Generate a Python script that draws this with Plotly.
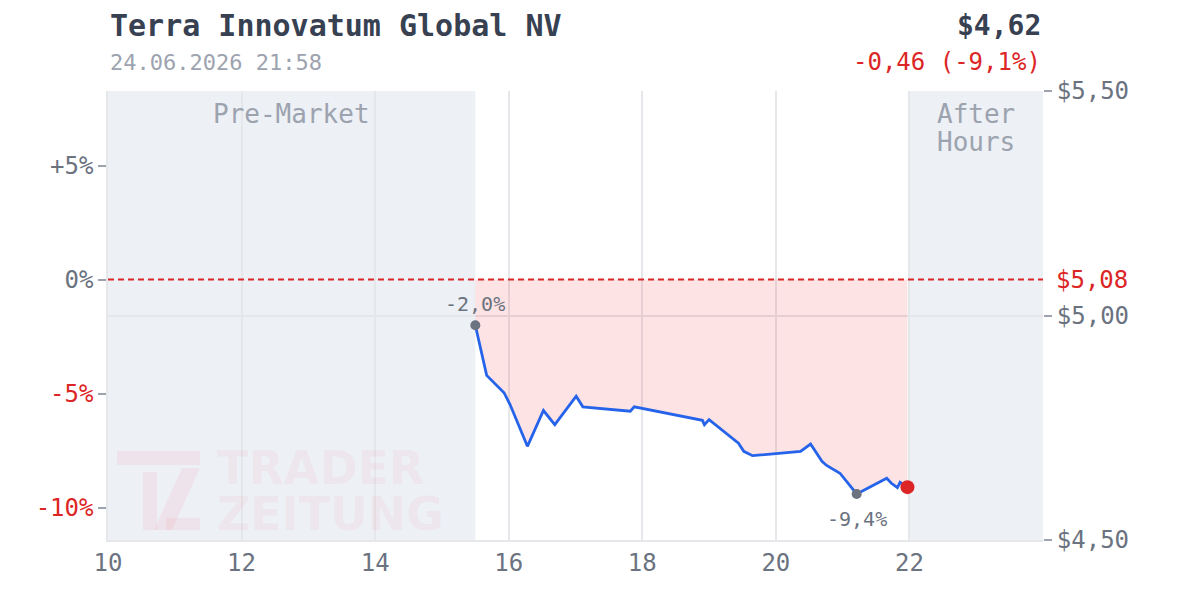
import plotly.graph_objects as go

# ---- data ----
hours = [15.50, 15.67, 15.93, 16.02, 16.28, 16.52, 16.69, 17.01, 17.11, 17.82, 17.88,
         18.90, 18.93, 19.00, 19.44, 19.52, 19.65, 20.37, 20.52, 20.69, 20.76, 20.96,
         21.21, 21.66, 21.73, 21.82, 21.86, 21.97]
pct = [-2.0, -4.20, -4.96, -5.48, -7.31, -5.74, -6.36, -5.11, -5.58, -5.77, -5.58,
       -6.17, -6.36, -6.14, -7.17, -7.53, -7.72, -7.53, -7.21, -7.97, -8.15, -8.49,
       -9.4, -8.71, -8.93, -9.12, -8.89, -9.1]
ref_price = 5.08
price_min, price_max = 4.50, 5.50
x_ticks = [10, 12, 14, 16, 18, 20, 22]
pct_ticks = [5, 0, -5, -10]
pct_labels = ["+5%", "0%", "-5%", "-10%"]
price_ticks = [4.50, 5.00, 5.50]
price_labels = ["$4,50", "$5,00", "$5,50"]
title = "Terra Innovatum Global NV"
subtitle = "24.06.2026 21:58"
last_price = "$4,62"
change_text = "-0,46 (-9,1%)"
pre_start, pre_end = 10, 15.5
ah_start, ah_end = 22, 24

FONT = "DejaVu Sans Mono"
RED = "#dc2626"
GRAY = "#6b7280"
LIGHT = "#9ca3af"
DARK = "#374151"
BLUE = "#2563eb"
SHADE = "#edf0f5"
WM = "rgba(255,80,120,0.08)"

ymin = (price_min / ref_price - 1) * 100
ymax = (price_max / ref_price - 1) * 100

# plot area in pixels
L, R, T, B = 108, 1043, 91, 540
W, H = R - L, B - T
def px(xp):
    return (xp - L) / W
def py(yp):
    return (B - yp) / H

fig = go.Figure()

# baseline for fill
fig.add_trace(go.Scatter(x=[hours[0], hours[-1]], y=[0, 0], mode="lines",
                         line=dict(width=0, color="rgba(0,0,0,0)"), hoverinfo="skip",
                         showlegend=False))
fig.add_trace(go.Scatter(x=hours, y=pct, mode="lines", fill="tonexty",
                         fillcolor="rgba(239,68,68,0.15)",
                         line=dict(color=BLUE, width=2.8), showlegend=False))
# start / min / end markers
imin = pct.index(min(pct))
fig.add_trace(go.Scatter(x=[hours[0], hours[imin]], y=[pct[0], pct[imin]], mode="markers",
                         marker=dict(color=GRAY, size=10), showlegend=False))
fig.add_trace(go.Scatter(x=[hours[-1]], y=[pct[-1]], mode="markers",
                         marker=dict(color=RED, size=14), showlegend=False))
# invisible trace on price axis
fig.add_trace(go.Scatter(x=[hours[0], hours[-1]], y=[ref_price, ref_price], yaxis="y2",
                         mode="lines", line=dict(width=0, color="rgba(0,0,0,0)"),
                         hoverinfo="skip", showlegend=False))

def fmt_pct(v):
    return f"{v:.1f}%".replace(".", ",")

annotations = [
    dict(x=hours[0], y=pct[0], text=fmt_pct(pct[0]), showarrow=False, yshift=21,
         font=dict(family=FONT, size=20, color=GRAY)),
    dict(x=hours[imin], y=pct[imin], text=fmt_pct(pct[imin]), showarrow=False, yshift=-25,
         font=dict(family=FONT, size=20, color=GRAY)),
    dict(x=(pre_start + pre_end) / 2, y=py(114), yref="paper", yanchor="middle",
         text="Pre-Market", showarrow=False, font=dict(family=FONT, size=26, color=LIGHT)),
    dict(x=(ah_start + ah_end) / 2, y=py(114), yref="paper", yanchor="middle",
         text="After", showarrow=False, font=dict(family=FONT, size=26, color=LIGHT)),
    dict(x=(ah_start + ah_end) / 2, y=py(142), yref="paper", yanchor="middle",
         text="Hours", showarrow=False, font=dict(family=FONT, size=26, color=LIGHT)),
    dict(x=0, xref="paper", y=py(26), yref="paper", xanchor="left", yanchor="middle",
         text=f"<b>{title}</b>", showarrow=False, font=dict(family=FONT, size=30, color=DARK)),
    dict(x=0, xref="paper", y=py(62), yref="paper", xanchor="left", yanchor="middle",
         text=subtitle, showarrow=False, font=dict(family=FONT, size=22, color=LIGHT)),
    dict(x=1, xref="paper", y=py(26), yref="paper", xanchor="right", yanchor="middle",
         text=f"<b>{last_price}</b>", showarrow=False, font=dict(family=FONT, size=28, color=DARK)),
    dict(x=1, xref="paper", y=py(62), yref="paper", xanchor="right", yanchor="middle",
         text=change_text, showarrow=False, font=dict(family=FONT, size=24, color=RED)),
    dict(x=1, xref="paper", y=ref_price, yref="y2", xanchor="left", yanchor="middle",
         xshift=11, text=f"${ref_price:.2f}".replace(".", ","), showarrow=False,
         font=dict(family=FONT, size=24, color=RED)),
    # watermark text
    dict(x=px(215), xref="paper", y=py(468), yref="paper", xanchor="left", yanchor="middle",
         text="<b>TRADER</b>", showarrow=False, height=42,
         font=dict(family="DejaVu Sans", size=46, color=WM)),
    dict(x=px(215), xref="paper", y=py(514), yref="paper", xanchor="left", yanchor="middle",
         text="<b>ZEITUNG</b>", showarrow=False, height=42,
         font=dict(family="DejaVu Sans", size=46, color=WM)),
]

shapes = [
    dict(type="rect", xref="x", yref="paper", x0=pre_start, x1=pre_end, y0=0, y1=1,
         fillcolor=SHADE, line=dict(width=0), layer="below"),
    dict(type="rect", xref="x", yref="paper", x0=ah_start, x1=ah_end, y0=0, y1=1,
         fillcolor=SHADE, line=dict(width=0), layer="below"),
    dict(type="line", xref="paper", yref="y", x0=0, x1=1, y0=0, y1=0,
         line=dict(color=RED, width=2, dash="6px,4px"), layer="above"),
]
def poly(pts):
    return "M " + " L ".join(f"{px(a)},{py(b)}" for a, b in pts) + " Z"
for pts in [
    [(117, 451), (200, 451), (200, 465), (117, 465)],
    [(143, 472), (157, 472), (157, 530), (143, 530)],
    [(182, 468), (200, 468), (172, 530), (154, 530)],
    [(166, 518), (200, 518), (200, 530), (166, 530)],
]:
    shapes.append(dict(type="path", xref="paper", yref="paper", path=poly(pts),
                       fillcolor=WM, line=dict(width=0), layer="below"))

tick_font = dict(family=FONT, size=24, color=GRAY)
fig.update_layout(
    width=1200, height=600,
    margin=dict(l=L, r=1200 - R, t=T, b=600 - B),
    paper_bgcolor="white", plot_bgcolor="white",
    showlegend=False,
    xaxis=dict(range=[10, 24], tickvals=x_ticks, ticktext=[str(v) for v in x_ticks],
               showgrid=True, gridcolor="#e5e7eb", gridwidth=1.5, zeroline=False,
               showline=True, linecolor="#e5e7eb", linewidth=1.5, ticks="",
               tickfont=tick_font),
    yaxis=dict(range=[ymin, ymax], tickvals=pct_ticks,
               ticktext=[f"<span style='color:{RED if v < 0 else GRAY}'>{t}</span>"
                         for v, t in zip(pct_ticks, pct_labels)],
               showgrid=False, zeroline=False, showline=True, linecolor="#e5e7eb",
               linewidth=1.5, ticks="outside", ticklen=8, tickcolor=LIGHT, tickwidth=2,
               tickfont=tick_font),
    yaxis2=dict(range=[price_min, price_max], overlaying="y", side="right",
                tickvals=price_ticks, ticktext=price_labels, showgrid=True,
                gridcolor="#e5e7eb", gridwidth=1.5, zeroline=False, showline=False,
                ticks="outside", ticklen=8, tickcolor=LIGHT, tickwidth=2,
                tickfont=tick_font),
    annotations=annotations,
    shapes=shapes,
)

fig.write_html("out.html")
